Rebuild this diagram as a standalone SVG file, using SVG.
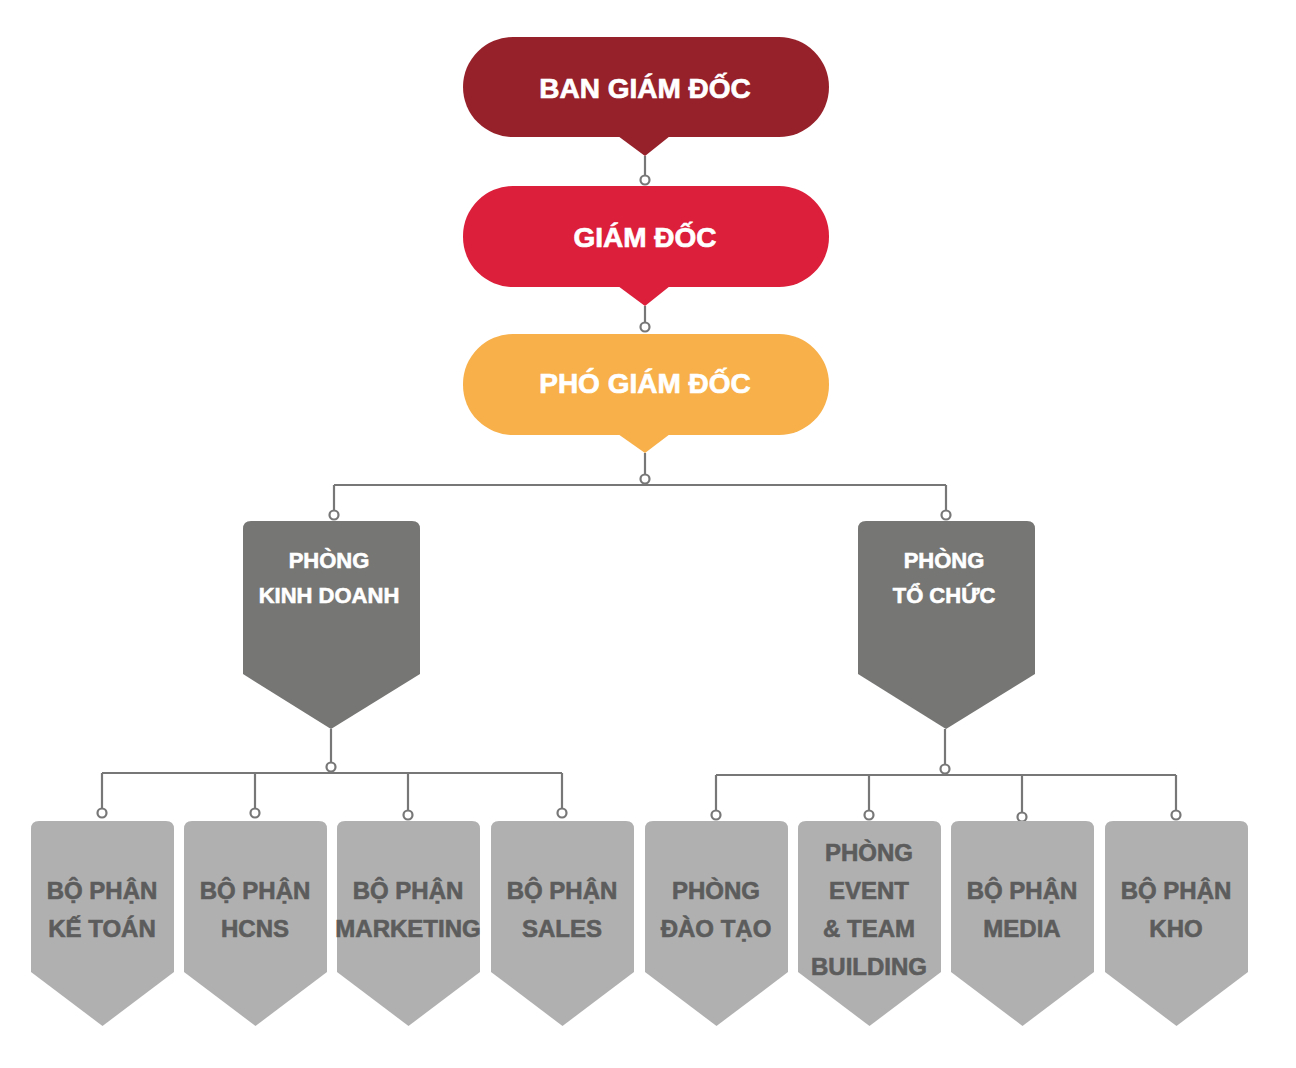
<svg xmlns="http://www.w3.org/2000/svg" width="1296" height="1068" viewBox="0 0 1296 1068">
<style>
.pt{font-family:"Liberation Sans",Arial,sans-serif;font-weight:bold;font-size:28px;fill:#fff;stroke:#fff;stroke-width:0.7;text-anchor:middle}
.mt{font-family:"Liberation Sans",Arial,sans-serif;font-weight:bold;font-size:22px;fill:#fff;stroke:#fff;stroke-width:0.6;text-anchor:middle}
.lt{font-family:"Liberation Sans",Arial,sans-serif;font-weight:bold;font-size:24px;fill:#5c5c5c;stroke:#5c5c5c;stroke-width:0.6;text-anchor:middle}
.ln{fill:none;stroke:#777;stroke-width:2.2}
.dot{fill:#fff;stroke:#777;stroke-width:2.2}
.mid{fill:#767674}
.leaf{fill:#b0b0b0}
</style>
<rect width="1296" height="1068" fill="#fff"/>
<g id="connectors">
<path class="ln" d="M645 156V180M645 306V327M645 453V485M334 485H946M334 485V515M946 485V515"/>
<path class="ln" d="M331 729V773M102 773H562M102 773V813M255 773V813M408 773V813M562 773V813"/>
<path class="ln" d="M945 729V775M716 775H1176M716 775V815M869 775V815M1022 775V815M1176 775V815"/>
<circle class="dot" cx="645" cy="180" r="4.5"/>
<circle class="dot" cx="645" cy="327" r="4.5"/>
<circle class="dot" cx="645" cy="479" r="4.5"/>
<circle class="dot" cx="334" cy="515" r="4.5"/>
<circle class="dot" cx="946" cy="515" r="4.5"/>
<circle class="dot" cx="331" cy="767" r="4.5"/>
<circle class="dot" cx="945" cy="769" r="4.5"/>
<circle class="dot" cx="102" cy="813" r="4.5"/>
<circle class="dot" cx="255" cy="813" r="4.5"/>
<circle class="dot" cx="408" cy="815" r="4.5"/>
<circle class="dot" cx="562" cy="813" r="4.5"/>
<circle class="dot" cx="716" cy="815" r="4.5"/>
<circle class="dot" cx="869" cy="815" r="4.5"/>
<circle class="dot" cx="1022" cy="817" r="4.5"/>
<circle class="dot" cx="1176" cy="815" r="4.5"/>
</g>
<g id="ban-giam-doc">
<rect x="463" y="37" width="366" height="100" rx="50" fill="#97212a"/>
<path d="M618 136H670L645 156Z" fill="#97212a"/>
<text class="pt" x="645" y="98">BAN GIÁM ĐỐC</text>
</g>
<g id="giam-doc">
<rect x="463" y="186" width="366" height="101" rx="50" fill="#dc1f3a"/>
<path d="M618 286H670L645 306Z" fill="#dc1f3a"/>
<text class="pt" x="645" y="247">GIÁM ĐỐC</text>
</g>
<g id="pho-giam-doc">
<rect x="463" y="334" width="366" height="101" rx="50" fill="#f7b04a"/>
<path d="M618 434H670L645 453Z" fill="#f7b04a"/>
<text class="pt" x="645" y="393">PHÓ GIÁM ĐỐC</text>
</g>
<g id="phong-kinh-doanh">
<path class="mid" d="M243 529Q243 521 251 521H412Q420 521 420 529V674L331 729L243 674Z"/>
<text class="mt" x="329" y="568">PHÒNG</text>
<text class="mt" x="329" y="603">KINH DOANH</text>
</g>
<g id="phong-to-chuc">
<path class="mid" d="M858 529Q858 521 866 521H1027Q1035 521 1035 529V674L946 729L858 674Z"/>
<text class="mt" x="944" y="568">PHÒNG</text>
<text class="mt" x="944" y="603">TỔ CHỨC</text>
</g>
<g id="bp-ke-toan">
<path class="leaf" d="M31 829Q31 821 39 821H166Q174 821 174 829V972L102.5 1026L31 972Z"/>
<text class="lt" x="102" y="899">BỘ PHẬN</text>
<text class="lt" x="102" y="937">KẾ TOÁN</text>
</g>
<g id="bp-hcns">
<path class="leaf" d="M184 829Q184 821 192 821H319Q327 821 327 829V972L255.5 1026L184 972Z"/>
<text class="lt" x="255" y="899">BỘ PHẬN</text>
<text class="lt" x="255" y="937">HCNS</text>
</g>
<g id="bp-marketing">
<path class="leaf" d="M337 829Q337 821 345 821H472Q480 821 480 829V972L408.5 1026L337 972Z"/>
<text class="lt" x="408" y="899">BỘ PHẬN</text>
<text class="lt" x="408" y="937">MARKETING</text>
</g>
<g id="bp-sales">
<path class="leaf" d="M491 829Q491 821 499 821H626Q634 821 634 829V972L562.5 1026L491 972Z"/>
<text class="lt" x="562" y="899">BỘ PHẬN</text>
<text class="lt" x="562" y="937">SALES</text>
</g>
<g id="phong-dao-tao">
<path class="leaf" d="M645 829Q645 821 653 821H780Q788 821 788 829V972L716.5 1026L645 972Z"/>
<text class="lt" x="716" y="899">PHÒNG</text>
<text class="lt" x="716" y="937">ĐÀO TẠO</text>
</g>
<g id="phong-event">
<path class="leaf" d="M798 829Q798 821 806 821H933Q941 821 941 829V972L869.5 1026L798 972Z"/>
<text class="lt" x="869" y="861">PHÒNG</text>
<text class="lt" x="869" y="899">EVENT</text>
<text class="lt" x="869" y="937">&amp; TEAM</text>
<text class="lt" x="869" y="975">BUILDING</text>
</g>
<g id="bp-media">
<path class="leaf" d="M951 829Q951 821 959 821H1086Q1094 821 1094 829V972L1022.5 1026L951 972Z"/>
<text class="lt" x="1022" y="899">BỘ PHẬN</text>
<text class="lt" x="1022" y="937">MEDIA</text>
</g>
<g id="bp-kho">
<path class="leaf" d="M1105 829Q1105 821 1113 821H1240Q1248 821 1248 829V972L1176.5 1026L1105 972Z"/>
<text class="lt" x="1176" y="899">BỘ PHẬN</text>
<text class="lt" x="1176" y="937">KHO</text>
</g>
</svg>
